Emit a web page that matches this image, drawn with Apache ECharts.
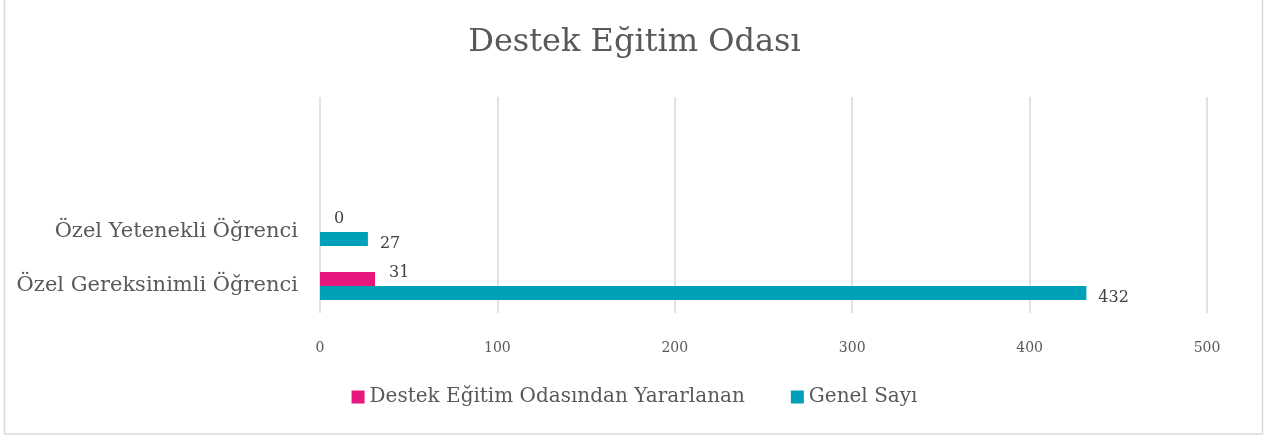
<!DOCTYPE html>
<html>
<head>
<meta charset="utf-8">
<script src="https://cdn.jsdelivr.net/npm/echarts@6/dist/echarts.min.js"></script>
<style>
  html, body { margin: 0; padding: 0; background: #fff; }
  #chart { width: 1269px; height: 439px; }
</style>
</head>
<body>
<div id="chart"></div>
<script>
// kategoriler (alttan üste), üstteki iki boş bant Excel'deki gibi
var categories = ['Özel Gereksinimli Öğrenci', 'Özel Yetenekli Öğrenci', '', ''];
var yararlanan = [31, 0, null, null];
var genelSayi = [432, 27, null, null];
var xTicks = [0, 100, 200, 300, 400, 500];

var FONT = 'DejaVu Serif';
var GRAY = '#595959';

var chart = echarts.init(document.getElementById('chart'));

var option = {
    animation: false,
    textStyle: { fontFamily: FONT },
    title: {
        text: 'Destek Eğitim Odası',
        left: 'center',
        top: 22,
        textStyle: { fontFamily: FONT, fontSize: 32, fontWeight: 'normal', color: GRAY }
    },
    legend: {
        top: 382,
        left: 'center',
        itemWidth: 13,
        itemHeight: 13,
        itemGap: 46,
        icon: 'rect',
        data: ['Destek Eğitim Odasından Yararlanan', 'Genel Sayı'],
        textStyle: { fontFamily: FONT, fontSize: 20, color: GRAY, padding: [0, 0, 0, 0] }
    },
    grid: {
        left: 320,
        right: 62,
        top: 97,
        bottom: 126
    },
    xAxis: {
        type: 'value',
        min: xTicks[0],
        max: xTicks[xTicks.length - 1],
        interval: 100,
        axisLine: { show: false },
        axisTick: { show: false },
        axisLabel: { fontFamily: FONT, fontSize: 14, color: GRAY, margin: 28 },
        splitLine: { lineStyle: { color: '#d9d9d9', width: 1.5 } }
    },
    yAxis: {
        type: 'category',
        data: categories,
        axisLine: { show: false },
        axisTick: { show: false },
        axisLabel: { fontFamily: FONT, fontSize: 21, color: GRAY, margin: 22 }
    },
    series: [
        {
            name: 'Destek Eğitim Odasından Yararlanan',
            type: 'bar',
            barWidth: 14,
            barGap: '0%',
            itemStyle: { color: '#e8177d' },
            label: {
                show: true,
                position: 'right',
                distance: 14,
                offset: [0, -6],
                fontFamily: FONT,
                fontSize: 16,
                color: '#404040'
            },
            data: yararlanan
        },
        {
            name: 'Genel Sayı',
            type: 'bar',
            barWidth: 14,
            barGap: '0%',
            itemStyle: { color: '#00a0b8' },
            label: {
                show: true,
                position: 'right',
                distance: 12,
                offset: [0, 5],
                fontFamily: FONT,
                fontSize: 16,
                color: '#404040'
            },
            data: genelSayi
        }
    ],
    graphic: [{
        type: 'rect',
        shape: { x: 4.5, y: -5, width: 1258, height: 439 },
        style: { fill: 'none', stroke: '#d9d9d9', lineWidth: 1.5 },
        silent: true
    }]
};

chart.setOption(option);
</script>
</body>
</html>
